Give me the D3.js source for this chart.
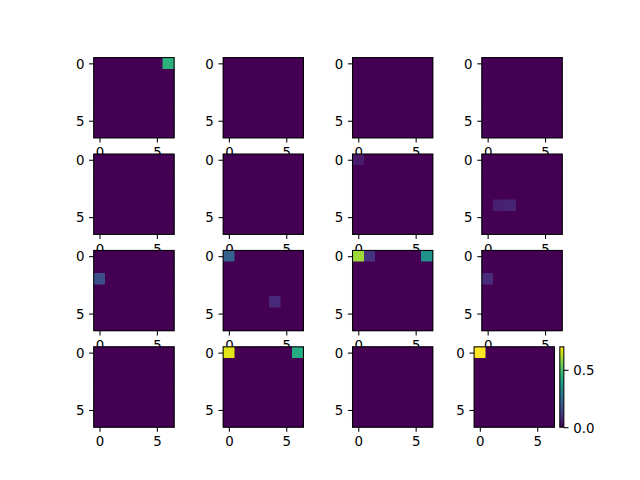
<!DOCTYPE html>
<html><head><meta charset="utf-8">
<script src="https://cdn.jsdelivr.net/npm/d3@7"></script>
<style>body{margin:0;background:#fff}svg{display:block}</style>
</head><body><svg id="c" width="640" height="480"></svg>
<script>
// ---- data ----
const gridRows = 4, gridCols = 4, matrixSize = 7;
// non-zero cells (panel index = row*4+col, cell row, cell col, value); all other cells are 0
const cellPanels = [0, 6, 7, 7, 8, 9, 9, 10, 10, 10, 11, 13, 13, 15];
const cellRows   = [0, 0, 4, 4, 2, 0, 4, 0, 0, 0, 2, 0, 0, 0];
const cellCols   = [6, 0, 1, 2, 0, 0, 4, 0, 1, 6, 0, 0, 6, 0];
const cellValues = [0.45, 0.05, 0.06, 0.07, 0.17, 0.22, 0.08, 0.60, 0.10, 0.35, 0.09, 0.67, 0.43, 0.70];
const xTicks = [0, 5];
const yTicks = [0, 5];
const colorbarTicks = [0.0, 0.5];

// ---- build matrices ----
const matrices = d3.range(gridRows * gridCols).map(() => d3.range(matrixSize).map(() => d3.range(matrixSize).map(() => 0)));
cellPanels.forEach((p, i) => { matrices[p][cellRows[i]][cellCols[i]] = cellValues[i]; });
const vmin = d3.min(matrices.flat(2)), vmax = d3.max(matrices.flat(2));
const color = d3.scaleSequential(d3.interpolateViridis).domain([vmin, vmax]);

// ---- layout (matplotlib subplot geometry) ----
const W = 640, H = 480;
const figL = 0.125 * W, figR = 0.9 * W, figT = (1 - 0.88) * H, figB = (1 - 0.11) * H;
const cellW = (figR - figL) / (gridCols + (gridCols - 1) * 0.2);
const cellH = (figB - figT) / (gridRows + (gridRows - 1) * 0.2);
const side = Math.min(cellW, cellH);
const px = 96 / 72;
const tickLen = 3.5 * px, tickPad = 3.5 * px, lw = 0.8 * px, fs = 10 * px;
const font = "'DejaVu Sans', sans-serif";

const svg = d3.select("#c");
svg.append("rect").attr("width", W).attr("height", H).attr("fill", "#fff");

function styleAxis(g) {
  g.select(".domain").remove();
  g.selectAll(".tick line").attr("stroke", "#000").attr("stroke-width", lw);
  g.selectAll(".tick text").attr("fill", "#000").attr("font-size", fs).attr("font-family", font);
}

matrices.forEach((mat, p) => {
  const r = Math.floor(p / gridCols), c = p % gridCols;
  const axL = figL + c * cellW * 1.2;
  const axT = figT + r * cellH * 1.2;
  const isLast = p === matrices.length - 1;
  let x0;
  if (isLast) x0 = axL + cellW * 0.8 - side; // shrunk by colorbar, anchored right
  else x0 = axL + (cellW - side) / 2;
  const y0 = axT + (cellH - side) / 2;

  const xs = d3.scaleLinear().domain([-0.5, matrixSize - 0.5]).range([x0, x0 + side]);
  const ys = d3.scaleLinear().domain([-0.5, matrixSize - 0.5]).range([y0, y0 + side]);

  const g = svg.append("g");
  g.append("rect").attr("x", x0).attr("y", y0).attr("width", side).attr("height", side).attr("fill", "#fff");
  const cells = [];
  mat.forEach((row, i) => row.forEach((v, j) => cells.push({ i, j, v })));
  g.append("g").attr("shape-rendering", "crispEdges").selectAll("rect").data(cells).join("rect")
    .attr("x", d => xs(d.j - 0.5)).attr("y", d => ys(d.i - 0.5))
    .attr("width", d => xs(d.j + 0.5) - xs(d.j - 0.5))
    .attr("height", d => ys(d.i + 0.5) - ys(d.i - 0.5))
    .attr("fill", d => color(d.v))
    .attr("stroke", d => color(d.v)).attr("stroke-width", 0.5);
  g.append("rect").attr("x", x0).attr("y", y0).attr("width", side).attr("height", side)
    .attr("fill", "none").attr("stroke", "#000").attr("stroke-width", lw);

  const ax = g.append("g").attr("transform", `translate(0,${y0 + side})`)
    .call(d3.axisBottom(xs).tickValues(xTicks).tickFormat(d3.format("d")).tickSize(tickLen).tickPadding(tickPad));
  styleAxis(ax);
  ax.selectAll(".tick text").attr("dy", "0.74em");
  const ay = g.append("g").attr("transform", `translate(${x0},0)`)
    .call(d3.axisLeft(ys).tickValues(yTicks).tickFormat(d3.format("d")).tickSize(tickLen).tickPadding(tickPad));
  styleAxis(ay);
  ay.selectAll(".tick text").attr("dy", "0.36em");

  if (isLast) {
    const cbX = axL + cellW * 0.85, cbW = side / 20;
    const cs = d3.scaleLinear().domain([vmin, vmax]).range([y0 + side, y0]);
    const grad = svg.append("defs").append("linearGradient").attr("id", "cbgrad")
      .attr("x1", 0).attr("y1", 1).attr("x2", 0).attr("y2", 0);
    d3.range(0, 1.0001, 0.05).forEach(t => grad.append("stop").attr("offset", t).attr("stop-color", d3.interpolateViridis(t)));
    const cb = svg.append("g");
    cb.append("rect").attr("x", cbX).attr("y", y0).attr("width", cbW).attr("height", side).attr("fill", "url(#cbgrad)");
    cb.append("rect").attr("x", cbX).attr("y", y0).attr("width", cbW).attr("height", side)
      .attr("fill", "none").attr("stroke", "#000").attr("stroke-width", lw);
    const ac = cb.append("g").attr("transform", `translate(${cbX + cbW},0)`)
      .call(d3.axisRight(cs).tickValues(colorbarTicks).tickFormat(d3.format(".1f")).tickSize(tickLen).tickPadding(tickPad));
    styleAxis(ac);
    ac.selectAll(".tick text").attr("dy", "0.36em");
  }
});
</script></body></html>
